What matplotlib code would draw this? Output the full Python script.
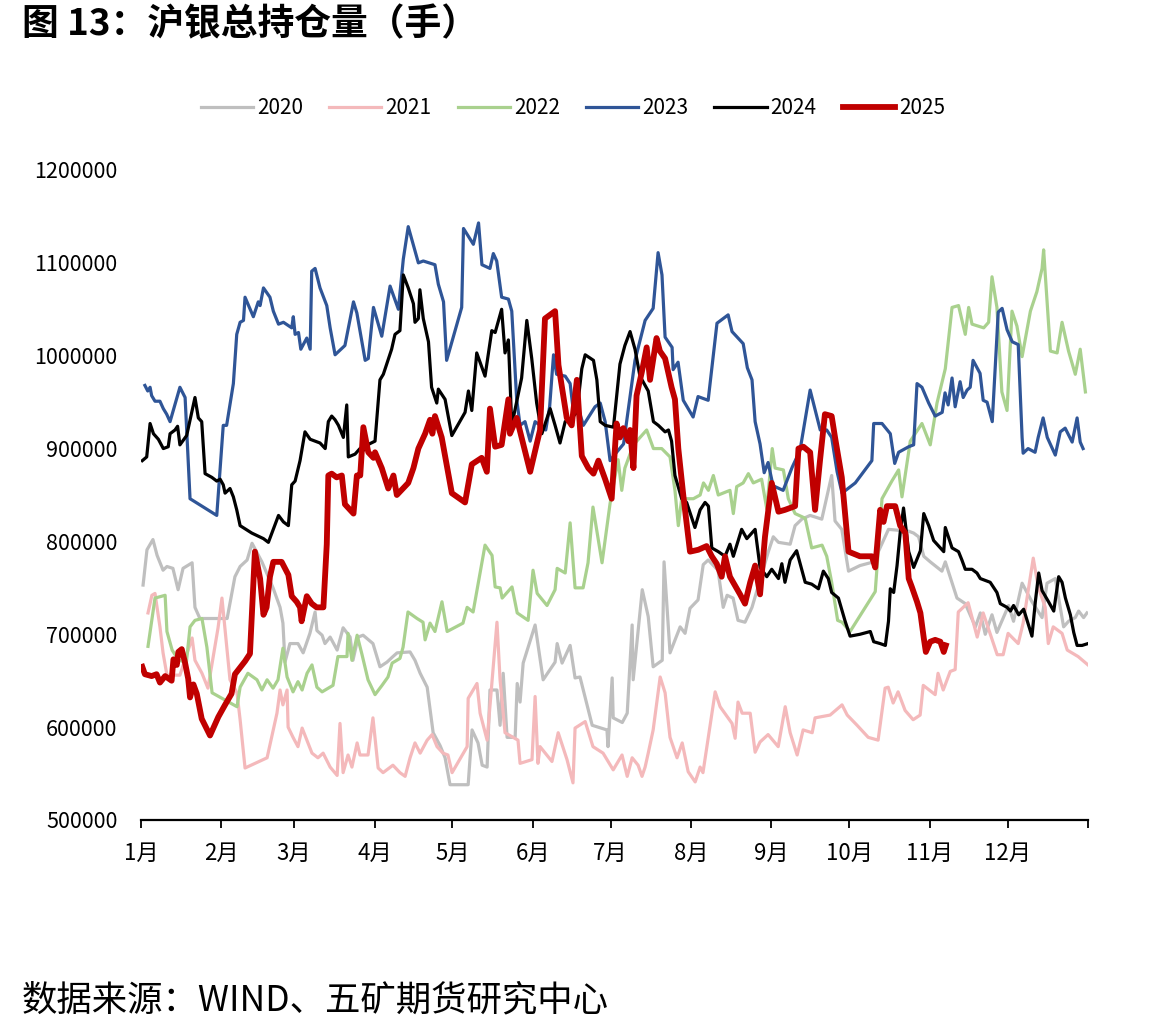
import matplotlib
matplotlib.use('Agg')
import matplotlib.pyplot as plt
import numpy as np

plt.rcParams['font.family'] = ['Liberation Sans Narrow', 'Noto Sans CJK SC', 'DejaVu Sans']

# x = day of year, y = total open interest (thousand lots)
days_2020 = [0.8, 2.3, 4.6, 6.2, 8.5, 10, 12.3, 14.3, 16.2, 19.7, 20.8, 22.7, 33.2, 36.2, 38.2, 40.9, 42.8, 46.6,
             50.9, 53.6, 54.7, 55.5, 57.4, 60.5, 62.5, 65.1, 67.1, 67.8, 69.8, 70.9, 72.9, 75.6, 77.9, 80.6, 81.7,
             83.7, 85.6, 89.4, 92.1, 94.8, 97.1, 98.7, 103.7, 105.6, 107.6, 110.3, 112.6, 115.3, 117.2, 119.1,
             126.1, 127.6, 129.9, 131.5, 133.4, 134.5, 137.2, 138.4, 139.6, 141.1, 144.2, 145, 146.1, 147.3, 151.9,
             155, 159.6, 160.4, 162.3, 165.4, 167.3, 169.2, 173.9, 179.6, 180, 181.6, 182, 185.5, 187.4, 189.3,
             189.7, 193.2, 195.5, 197.4, 200.9, 201.6, 203.9, 207.8, 209.7, 211.6, 214.7, 216.7, 218.6, 222.4,
             224.4, 225.9, 228.2, 230.1, 232.8, 235.5, 237.5, 241.8, 243.7, 245.7, 250.2, 252.1, 254.7, 257.9,
             262.4, 266.2, 267.5, 270.1, 272.7, 277.1, 282.4, 288.1, 295.9, 297.8, 299.7, 301.7, 304.2, 308.7, 310,
             314.5, 317.7, 321.6, 323.5, 325.4, 328, 329.9, 334.4, 336.3, 339.6, 343.4, 347.3, 349.2, 352.4, 355.6,
             357.5, 360.1, 361.4, 363.3, 364.6]
oi_2020 = [753, 791, 802, 785, 769, 773, 771, 748, 771, 777, 729, 717, 717, 762, 773, 780, 798, 778,
           750, 729, 712, 670, 690, 690, 680, 701, 724, 704, 699, 690, 697, 683, 707, 697, 672,
           697, 699, 690, 665, 670, 676, 680, 681, 672, 658, 643, 594, 580, 567, 538,
           538, 597, 583, 559, 557, 640, 640, 602, 658, 589, 589, 647, 627, 669, 710,
           651, 670, 690, 669, 688, 653, 654, 602, 597, 579, 653, 610, 605, 615, 710,
           651, 748, 719, 665, 672, 778, 680, 708, 701, 728, 737, 775, 780, 769,
           729, 742, 739, 715, 713, 729, 748, 789, 805, 799, 797, 817, 824, 828,
           824, 871, 822, 813, 768, 774, 778, 813, 811, 809, 805, 784, 778, 768, 778,
           739, 733, 708, 723, 700, 721, 702, 731, 714, 755, 735, 718, 755, 760, 708,
           714, 718, 725, 718, 723]

days_2021 = [2.7, 4.2, 5.4, 7.3, 8.5, 10, 15, 19.7, 20.8, 23.5, 25.8, 29.7, 31.2, 34.3, 37, 38.2, 40.1, 48.6,
             52.4, 53.6, 54.7, 56.3, 56.7, 58.6, 60.5, 62.1, 65.9, 68.2, 70.2, 72.9, 75.6, 76.7, 77.9, 79.8,
             81.3, 83.3, 84.4, 87.5, 89.4, 91.4, 93.3, 97.1, 99.8, 101.8, 103.7, 105.6, 107.6, 110.3, 112.2,
             114.1, 116.4, 118.3, 119.9, 125.7, 126.1, 129.5, 130.7, 133.4, 137.2, 138.4, 140.3, 145.3, 146.1,
             150.7, 151.9, 153, 153.8, 158.4, 160.8, 164.2, 166.5, 167.3, 171.2, 174.2, 178.1, 182, 185.4, 187.4,
             189.3, 191.6, 193.1, 194.3, 195.5, 197.4, 200.1, 202, 203.9, 206.6, 208.6, 210.9, 213.6, 215.5,
             216.6, 221.3, 223.2, 227.8, 229, 230.1, 231.7, 234.8, 236.7, 238.6, 241.7, 245.6, 248.3, 250.2,
             252.9, 255.2, 258.7, 259.8, 265.6, 270.2, 272.2, 276, 280.3, 284.1, 286.8, 288, 289.9, 291.8,
             294.5, 297.6, 300.3, 301.5, 306.1, 307.2, 309.2, 311.9, 313.8, 315, 318.8, 322.3, 324.6, 330,
             332.3, 334.2, 338.1, 340, 343.9, 345.8, 348.5, 349.7, 351.6, 355, 357, 361.2, 365]
oi_2021 = [723, 742, 744, 708, 680, 656, 656, 696, 672, 658, 642, 707, 739, 651, 637, 608, 556, 567,
           615, 640, 624, 640, 600, 589, 579, 599, 572, 567, 572, 557, 548, 604, 551, 570,
           557, 583, 570, 570, 610, 556, 551, 559, 551, 547, 567, 583, 572, 586, 592,
           579, 572, 570, 551, 579, 631, 647, 615, 586, 713, 651, 594, 586, 561,
           565, 633, 561, 579, 563, 594, 565, 540, 599, 606, 579, 572, 554, 570, 547,
           567, 559, 547, 557, 572, 597, 654, 637, 589, 567, 583, 552, 541, 557,
           551, 638, 622, 604, 588, 627, 615, 615, 573, 584, 592, 579, 622, 594,
           570, 597, 594, 610, 613, 624, 613, 602, 589, 586, 642, 643, 626, 638,
           618, 608, 613, 645, 635, 658, 640, 660, 662, 724, 734, 697, 723, 678,
           678, 701, 690, 712, 782, 751, 729, 690, 708, 701, 683, 676, 667]

days_2022 = [2.7, 5.4, 9.3, 10, 12, 14.5, 17.5, 18.9, 20.8, 23.5, 25.4, 27.4, 37, 38.2, 41.2, 44.7, 46.6, 48.6,
             50.9, 52.8, 54.7, 56.3, 58.6, 60.5, 62.1, 64, 65.9, 67.8, 69.8, 74, 75.9, 79.4, 79.8, 81.3, 83.3,
             85.2, 87.5, 90.2, 92.9, 95.2, 96.8, 99.8, 101, 102.9, 106.4, 108.7, 109.5, 111.4, 113.3, 116, 118,
             124.1, 125.7, 128, 132.6, 135.3, 136.5, 138.4, 139.2, 143, 145, 149.2, 151.1, 152.7, 156.5, 159.6,
             160.4, 163.5, 165.4, 167.3, 170.4, 172.3, 174.2, 177.7, 179.6, 180.8, 183.9, 185.3, 186.5, 189.8,
             194.9, 197.5, 200.7, 203.9, 205.8, 207.1, 208.4, 212.9, 215.5, 216.8, 218.7, 220.6, 222.5, 227,
             228.3, 229.6, 232.1, 234.1, 236, 239.2, 241.2, 243.3, 244.4, 247.6, 249.5, 252.1, 256, 258.5,
             262.5, 264.3, 266.2, 268.5, 270.2, 273.3, 283, 285.6, 289.4, 292, 293.3, 296.5, 301, 304.2, 306.8,
             310, 312.6, 315.1, 317.7, 319, 320.3, 324.8, 326.7, 328, 329.9, 331.8, 333.8, 335.7, 337.6, 339.6,
             342.8, 345.3, 347.3, 347.9, 350.5, 353.1, 355, 357.5, 360.1, 362, 364]
oi_2022 = [687, 739, 742, 703, 683, 672, 670, 708, 715, 717, 686, 637, 622, 643, 658, 651, 640, 651,
           642, 651, 685, 654, 638, 649, 640, 658, 667, 643, 638, 645, 676, 676, 701, 672, 699,
           678, 651, 635, 645, 654, 669, 674, 686, 724, 717, 713, 694, 712, 703, 735, 703,
           712, 729, 724, 796, 785, 751, 750, 739, 751, 723, 715, 769, 744, 731, 748,
           771, 766, 820, 750, 750, 777, 837, 777, 816, 841, 888, 855, 879, 904,
           920, 900, 900, 891, 855, 817, 846, 846, 850, 863, 855, 871, 850, 855,
           830, 859, 863, 873, 863, 867, 835, 900, 879, 877, 846, 830, 825, 793,
           796, 784, 756, 715, 713, 703, 746, 846, 865, 877, 848, 908, 927, 904, 949,
           986, 1052, 1054, 1023, 1052, 1034, 1030, 1036, 1085, 1052, 961, 941, 1048, 1032, 999,
           1048, 1069, 1094, 1114, 1005, 1003, 1036, 1005, 980, 1007, 961]

days_2023 = [1.5, 2.6, 3.5, 4.1, 5.4, 7.3, 8.6, 9.9, 11.2, 15, 17, 18.9, 29.2, 31.7, 33, 35.6, 36.9, 38.2,
             39.5, 40.1, 43.3, 45.2, 45.9, 47.2, 49.7, 51, 53, 54.9, 58.1, 58.7, 59.4, 60.7, 61.6, 63.9, 65.2,
             65.8, 67.1, 69, 71.6, 72.9, 74.8, 78.6, 81.9, 83.2, 86.4, 87.6, 89.6, 92.8, 96, 99.2, 101.1, 103,
             106.9, 108.8, 113.3, 114.6, 116.6, 117.8, 123.6, 124.3, 128.1, 130.1, 131.4, 134.5, 135.8, 137.1,
             139, 141.6, 142.9, 144.8, 146.1, 148, 150, 151.9, 153.8, 156, 157.5, 159, 160.2, 163.5, 165.4,
             166.7, 168.6, 170.5, 175, 177, 178.9, 180.8, 183, 186, 190.4, 194.3, 197.4, 199.3, 200.8, 202,
             204.7, 205.1, 207, 209, 212.8, 214.7, 218.6, 222, 226.3, 227.8, 232.1, 233.7, 235.5, 236.7, 238.6,
             240.2, 241.7, 243.6, 247.5, 251, 254, 257.9, 261.8, 264.3, 266.2, 268.3, 270.2, 275.3, 281.7,
             282.4, 285.6, 288.8, 290.1, 290.5, 292, 295.9, 297.8, 299.1, 301, 303.6, 306.1, 308.8, 309.9,
             311.1, 312.6, 313.8, 315.7, 316.9, 318.4, 319.6, 320.7, 323.4, 324.6, 326.1, 328.1, 330.4, 331.9,
             333.8, 335.8, 338.1, 339.6, 340, 341.9, 344.6, 345.8, 347.7, 349.3, 352.4, 354.3, 356.2, 358.9,
             360.8, 362, 363.1]
oi_2023 = [968, 962, 966, 957, 951, 951, 943, 937, 929, 966, 955, 846, 828, 925, 925, 970, 1023, 1036,
           1038, 1063, 1042, 1058, 1054, 1073, 1063, 1048, 1034, 1036, 1030, 1042, 1023, 1025, 1007, 1019, 1007,
           1091, 1094, 1073, 1054, 1030, 1001, 1011, 1058, 1046, 995, 997, 1052, 1021, 1075, 1050, 1104, 1139,
           1100, 1102, 1098, 1077, 1058, 995, 1052, 1137, 1120, 1143, 1098, 1094, 1110, 1102,
           1063, 1061, 1048, 953, 925, 929, 908, 929, 925, 920, 945, 1001, 980, 978, 970,
           939, 943, 925, 945, 949, 929, 887, 895, 905, 995, 1038, 1051, 1111, 1087, 1020,
           1009, 985, 993, 952, 934, 956, 952, 1035, 1044, 1026, 1013, 987, 974, 929, 905,
           874, 885, 860, 855, 880, 898, 963, 920, 920, 912, 875, 852, 863, 887,
           927, 927, 916, 892, 884, 896, 902, 904, 970, 966, 949, 935, 939, 960,
           947, 976, 945, 972, 955, 963, 966, 995, 981, 952, 950, 929, 1047, 1051,
           1028, 1015, 1012, 912, 895, 900, 896, 912, 933, 912, 893, 918, 922, 907,
           933, 907, 900]

days_2024 = [0.5, 2.2, 3.5, 4.8, 6.7, 8.6, 10.5, 11.2, 13.1, 14.1, 15, 17.6, 20.8, 22.1, 23.4, 24.7, 27.3, 29.2,
             30.5, 31.7, 32.4, 34.3, 35.6, 36.9, 38.2, 42.7, 47.2, 49.1, 51, 53, 54.9, 56.8, 58.1, 59.4, 61.3,
             63.2, 65.2, 67.1, 69, 71, 72.2, 73.5, 74.8, 76.1, 78, 79.3, 79.9, 82.5, 84.4, 85.7, 88, 90.2, 92.1,
             93.4, 96.6, 97.9, 99.8, 101.1, 103, 105, 105.6, 106.9, 107.5, 108.8, 110.8, 112, 114, 114.6, 117.2,
             119.8, 124.9, 126.2, 127.5, 129.4, 132.6, 135.2, 136.5, 139, 140.3, 141.6, 142.9, 146.7, 148.7,
             150.6, 152.5, 154.5, 157.7, 159.6, 161.5, 163.5, 166, 168, 169.9, 171.2, 174.4, 175.7, 177, 178.9,
             182.1, 184.6, 186.5, 188.5, 190.4, 192.3, 195.5, 197.5, 199.4, 202, 203.3, 204.5, 205.8, 208.4,
             210.3, 213.5, 215.5, 217.4, 218.7, 220, 222.5, 225.1, 227, 228.3, 231.5, 233.5, 236.7, 238.6,
             241.2, 243.1, 245.7, 247, 248.2, 250.2, 252.7, 256, 258.5, 261.1, 263, 264.9, 266.2, 268.8, 271.4,
             273.3, 277.1, 281.1, 282.4, 284.9, 286.9, 288.1, 288.8, 290.1, 291.4, 292.6, 293.9, 295.9, 297.8,
             300.4, 301.7, 303.6, 305.5, 308.1, 309.4, 310, 312.6, 315.1, 316.4, 317.7, 320.3, 322.2, 323.5,
             325.4, 327.3, 329.9, 331.2, 333.8, 335.1, 336.3, 338.3, 340.2, 342.1, 343.4, 344.7, 346, 347.3,
             349.8, 351.8, 353.7, 355, 356.3, 358.2, 359.5, 360.8, 362.7, 365]
oi_2024 = [887, 891, 927, 916, 910, 900, 902, 916, 920, 924, 904, 914, 955, 933, 929, 873, 869, 865,
           867, 861, 852, 857, 848, 834, 817, 809, 803, 799, 813, 828, 821, 817, 861, 865, 887,
           918, 910, 908, 906, 900, 929, 935, 931, 925, 912, 947, 891, 894, 900, 898, 905, 908, 974,
           980, 1007, 1023, 1027, 1087, 1073, 1056, 1036, 1040, 1071, 1040, 1015, 966, 949, 964, 953,
           914, 939, 962, 941, 1003, 978, 1027, 1025, 1050, 1003, 1017, 925, 976, 1038,
           997, 949, 916, 943, 925, 906, 929, 933, 939, 986, 1001, 995, 974, 929, 925,
           923, 991, 1011, 1026, 1007, 978, 962, 929, 925, 918, 920, 908, 871, 846,
           842, 815, 834, 842, 838, 793, 789, 784, 797, 784, 813, 803, 813, 772,
           762, 770, 760, 776, 756, 780, 790, 756, 754, 749, 768, 760, 745, 739, 714,
           698, 700, 703, 692, 690, 688, 714, 749, 745, 774, 809, 836, 789, 772,
           790, 830, 817, 801, 793, 789, 815, 793, 789, 780, 770, 770, 766, 760,
           758, 756, 745, 733, 729, 725, 731, 721, 727, 710, 698, 735, 766, 747,
           735, 725, 762, 756, 739, 721, 702, 688, 688, 690]

days_2025 = [0.5, 1.5, 4.1, 6, 7.3, 9.3, 11.8, 12.5, 13.8, 14.4, 15.7, 17, 18.2, 18.9, 20.2, 21.5, 23.4, 26.6,
             29.8, 32.4, 34.9, 36.2, 40.1, 42, 43.9, 45.9, 47.2, 48.4, 49.7, 51, 54.2, 56.8, 58.1, 60, 61.3,
             61.9, 63.9, 65.8, 67.7, 70.3, 71.6, 72.2, 73.5, 75.4, 77.4, 78.6, 81.9, 83.2, 84.5, 85.7, 87.6,
             89.6, 90.2, 92.8, 95.3, 97.3, 98.6, 103, 105, 106.9, 109.5, 111.4, 112.3, 113.3, 115.9, 117.8,
             119.8, 124.9, 127.5, 131.3, 133.3, 134.5, 136.5, 139, 141.6, 142.2, 144.8, 150, 153.8, 155.7,
             159.6, 160.9, 164.1, 166, 168, 169.9, 172.4, 174.4, 176.3, 178.9, 181.4, 183.3, 184.6, 185.9,
             187.8, 188.5, 189.8, 191, 193, 194.9, 196.2, 198.7, 200, 202, 204.5, 205.8, 207.1, 209, 211.6,
             214.8, 218, 220, 221.9, 223.8, 225.1, 227, 230.9, 232.8, 234.8, 236.7, 238.6, 240.5, 243.1,
             245.7, 248.2, 252.1, 253.4, 255.3, 257.9, 259.8, 261.7, 263.6, 266.2, 267.5, 270.1, 272.7, 277.1,
             281.7, 283, 284.9, 286.2, 287.5, 290.7, 292.6, 294.6, 295.9, 297.1, 299.1, 300.4, 301.7, 302.5,
             304.2, 306.1, 308.1, 309.4, 310.2]
oi_2025 = [665, 657, 655, 657, 648, 655, 650, 673, 667, 681, 684, 669, 652, 632, 646, 636, 609, 591,
           611, 624, 636, 657, 671, 679, 789, 760, 721, 729, 762, 778, 778, 764, 741, 735, 729,
           714, 741, 733, 729, 729, 797, 871, 873, 869, 871, 840, 830, 871, 871, 923, 896,
           890, 896, 879, 857, 871, 850, 863, 879, 900, 916, 931, 916, 935, 912, 883,
           852, 842, 883, 890, 875, 943, 902, 904, 953, 916, 933, 875, 920, 1040,
           1048, 990, 933, 925, 974, 892, 879, 873, 887, 867, 846, 927, 912, 922,
           908, 920, 879, 957, 982, 1009, 974, 1019, 1005, 997, 966, 953, 900, 850, 789,
           791, 795, 784, 776, 762, 784, 762, 743, 733, 756, 774, 743, 805, 863,
           832, 834, 838, 900, 902, 896, 834, 887, 937, 935, 912, 869, 789, 784,
           784, 772, 834, 821, 838, 838, 817, 809, 760, 751, 735, 723, 696, 681,
           692, 694, 692, 681, 688]

years = ['2020', '2021', '2022', '2023', '2024', '2025']
colors = ['#BFBFBF', '#F4B9BB', '#A9D18E', '#2F5597', '#000000', '#C00000']
widths = [2.3, 2.3, 2.3, 2.3, 2.3, 4.2]

month_starts = [0, 31, 59, 90, 120, 151, 181, 212, 243, 273, 304, 334, 365]
month_labels = ['1月', '2月', '3月', '4月', '5月', '6月', '7月', '8月', '9月', '10月', '11月', '12月', '']

series = [(days_2020, oi_2020), (days_2021, oi_2021), (days_2022, oi_2022),
          (days_2023, oi_2023), (days_2024, oi_2024), (days_2025, oi_2025)]

fig = plt.figure(figsize=(11.65, 10.33), dpi=100)
ax = fig.add_axes([141 / 1165, 1 - 820 / 1033, (1088 - 141) / 1165, (820 - 170) / 1033])

handles = []
for (d, v), yr, c, w in zip(series, years, colors, widths):
    line, = ax.plot(d, np.array(v) * 1000, color=c, lw=w, label=yr, solid_joinstyle='round')
    handles.append(line)

ax.set_xlim(0, 365)
ax.set_ylim(500000, 1200000)
ax.set_yticks(np.arange(500000, 1200001, 100000))
ax.set_yticklabels([str(t) for t in range(500000, 1200001, 100000)])
ax.set_xticks(month_starts)
ax.set_xticklabels(month_labels)

# only the bottom axis line is drawn
for s in ['top', 'right', 'left']:
    ax.spines[s].set_visible(False)
ax.spines['bottom'].set_linewidth(1.6)

ax.tick_params(axis='y', length=0, pad=17, labelsize=15.5)
ax.tick_params(axis='x', direction='out', length=6, width=1.3, pad=10, labelsize=16)

fig.legend(handles=handles, loc='center', bbox_to_anchor=(573 / 1165, 1 - 108 / 1033), ncol=6,
           frameon=False, fontsize=15, handlelength=2.5, handletextpad=0.2, columnspacing=1.25)

fig.text(22 / 1165, 1 - 25 / 1033, '图 13：沪银总持仓量（手）', fontsize=26.5, fontweight='bold',
         family=['Noto Sans CJK SC', 'DejaVu Sans'], va='center', ha='left')
fig.text(22 / 1165, 1 - 1000 / 1033, '数据来源：WIND、五矿期货研究中心', fontsize=25.5,
         family=['Noto Sans CJK SC', 'DejaVu Sans'], va='center', ha='left')

fig.savefig('out.png', dpi=100)
